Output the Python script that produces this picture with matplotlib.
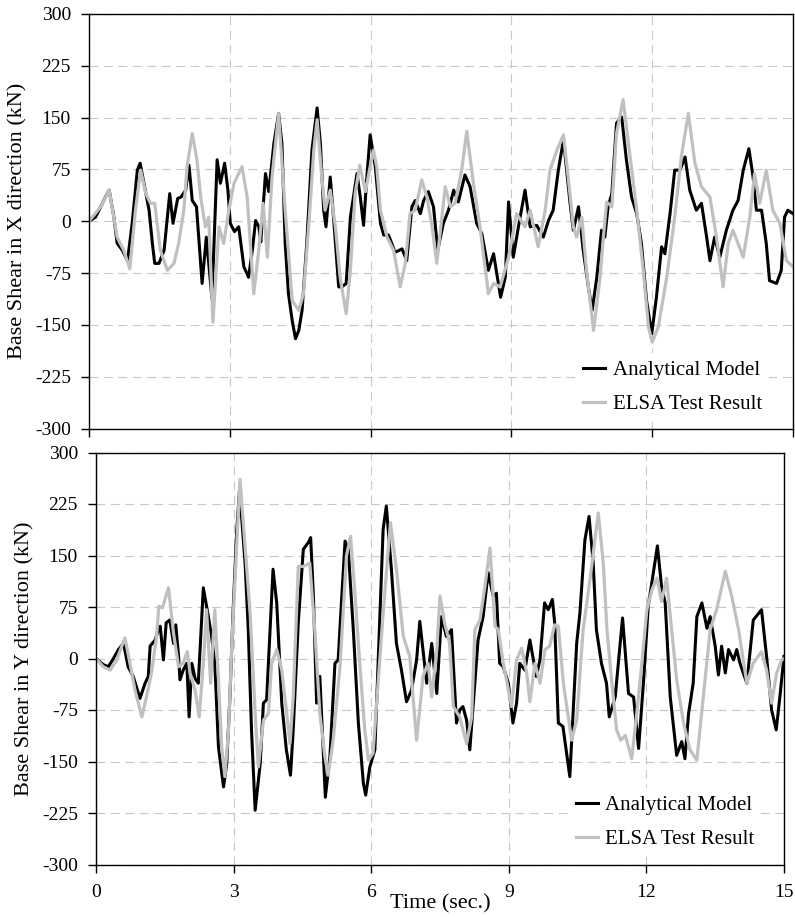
import numpy as np
import matplotlib
matplotlib.use("Agg")
from matplotlib import pyplot as plt

# Base shear time histories, analytical model vs ELSA pseudo-dynamic test

# X direction - analytical model
t_x_model = [0.0, 0.14, 0.25, 0.35, 0.43, 0.53, 0.60, 0.71, 0.82, 0.92, 1.03, 1.09, 1.17, 1.28,
             1.35, 1.40, 1.49, 1.60, 1.72, 1.79, 1.89, 1.96, 2.06, 2.13, 2.20, 2.29, 2.41, 2.50,
             2.62, 2.73, 2.80, 2.89, 2.96, 3.01, 3.10, 3.19, 3.30, 3.40, 3.48, 3.55, 3.62, 3.66,
             3.76, 3.83, 3.94, 4.04, 4.11, 4.18, 4.25, 4.33, 4.40, 4.47, 4.54, 4.64, 4.75, 4.86,
             4.93, 5.00, 5.05, 5.14, 5.21, 5.32, 5.39, 5.48, 5.57, 5.71, 5.78, 5.85, 5.92, 5.99,
             6.10, 6.21, 6.28, 6.38, 6.45, 6.52, 6.67, 6.77, 6.88, 6.95, 7.06, 7.13, 7.23, 7.34,
             7.43, 7.55, 7.66, 7.77, 7.87, 8.01, 8.12, 8.26, 8.37, 8.51, 8.62, 8.77, 8.87, 8.94,
             9.04, 9.15, 9.29, 9.40, 9.54, 9.68, 9.79, 9.89, 10.00, 10.11, 10.25, 10.32, 10.43,
             10.53, 10.64, 10.72, 10.82, 10.92, 10.99, 11.06, 11.14, 11.24, 11.35, 11.45, 11.56,
             11.67, 11.77, 11.88, 11.99, 12.09, 12.20, 12.27, 12.38, 12.48, 12.59, 12.70, 12.80,
             12.94, 13.05, 13.16, 13.23, 13.33, 13.44, 13.58, 13.72, 13.83, 13.94, 14.06, 14.15,
             14.22, 14.33, 14.43, 14.50, 14.65, 14.75, 14.82, 14.89, 15.0]
vx_model = [0, 6, 21, 35, 45, 6, -32, -42, -57, -3, 74, 84, 55, 16,
            -32, -61, -61, -42, 40, -3, 33, 35, 45, 81, 30, 21, -90, -23,
            -112, 89, 55, 84, 45, -3, -15, -8, -66, -81, -42, 1, -8, -30,
            69, 43, 113, 156, 113, -32, -105, -144, -170, -158, -129, -32, 103, 164,
            113, 16, -8, 64, 6, -95, -95, -90, 6, 69, 35, -6, 64, 125,
            79, -3, -20, -20, -32, -45, -40, -57, 21, 30, 11, 30, 43, 21,
            -42, -3, 16, 45, 28, 67, 50, -3, -18, -71, -47, -110, -81, 28,
            -52, -8, 45, -8, -6, -23, 1, 16, 74, 118, 26, -13, 21,
            -42, -95, -129, -81, -13, -23, 21, 40, 142, 151, 89, 35,
            11, -32, -115, -163, -110, -37, -47, 11, 74, 74, 93, 45,
            16, 26, -23, -57, -23, -52, -13, 16, 30, 74, 105, 64,
            16, 16, -32, -86, -90, -71, 6, 16, 11]

# X direction - ELSA test
t_x_test = [0.0, 0.25, 0.43, 0.60, 0.74, 0.87, 0.99, 1.10, 1.21, 1.31, 1.40, 1.52, 1.67, 1.81,
            1.91, 2.02, 2.09, 2.20, 2.30, 2.38, 2.48, 2.55, 2.64, 2.77, 2.87, 2.98, 3.09, 3.26,
            3.37, 3.51, 3.62, 3.71, 3.80, 3.90, 4.04, 4.18, 4.33, 4.47, 4.57, 4.68, 4.79, 4.86,
            4.96, 5.03, 5.14, 5.25, 5.35, 5.48, 5.57, 5.67, 5.77, 5.89, 5.99, 6.06, 6.13, 6.21,
            6.35, 6.49, 6.63, 6.74, 6.84, 6.95, 7.09, 7.20, 7.31, 7.41, 7.59, 7.70, 7.80, 7.94,
            8.05, 8.19, 8.33, 8.51, 8.62, 8.76, 8.94, 9.11, 9.29, 9.40, 9.57, 9.72, 9.82, 9.97,
            10.11, 10.21, 10.32, 10.39, 10.50, 10.60, 10.75, 10.89, 10.96, 11.03, 11.14, 11.24,
            11.38, 11.53, 11.67, 11.81, 11.92, 12.00, 12.13, 12.31, 12.48, 12.62, 12.77, 12.91,
            13.05, 13.23, 13.37, 13.51, 13.62, 13.72, 13.94, 14.08, 14.18, 14.29, 14.43, 14.57,
            14.72, 14.86, 15.0]
vx_test = [0, 21, 45, -23, -42, -69, 16, 74, 40, 26, 26, -42, -71, -61,
           -32, 16, 79, 127, 89, 35, -8, 6, -146, -8, -32, 16, 55, 79,
           35, -105, -40, 26, -52, 64, 156, 16, -115, -129, -105, -8, 103, 147,
           64, 16, 45, -8, -81, -134, -71, 40, 81, 43, 79, 103, 79, 16,
           -23, -42, -95, -61, 11, 16, 60, 35, -8, -61, 50, 21, 26, 74,
           130, 55, -8, -105, -90, -95, -52, 11, -8, 16, -37, 16, 74, 103,
           125, 64, -8, -23, 6, -71, -158, -81, -23, 28, 21, 127,
           176, 93, 16, -71, -153, -175, -153, -81, 6, 93, 156, 84,
           50, 35, -23, -95, -32, -13, -52, 6, 69, 26, 74, 16,
           -3, -57, -66]

# Y direction - analytical model
t_y_model = [0.0, 0.16, 0.27, 0.38, 0.49, 0.60, 0.70, 0.81, 0.96, 1.07, 1.14, 1.18, 1.29, 1.36,
             1.40, 1.47, 1.53, 1.61, 1.69, 1.74, 1.80, 1.83, 1.90, 1.98, 2.03, 2.09, 2.16, 2.23,
             2.34, 2.45, 2.52, 2.59, 2.67, 2.78, 2.85, 2.92, 2.99, 3.07, 3.13, 3.25, 3.32, 3.39,
             3.47, 3.58, 3.65, 3.72, 3.86, 3.94, 4.05, 4.15, 4.24, 4.30, 4.41, 4.52, 4.63, 4.68,
             4.74, 4.81, 4.88, 4.95, 5.00, 5.10, 5.21, 5.28, 5.35, 5.43, 5.50, 5.61, 5.72, 5.83,
             5.88, 5.97, 6.08, 6.15, 6.26, 6.33, 6.44, 6.55, 6.66, 6.77, 6.88, 6.99, 7.06, 7.21,
             7.32, 7.43, 7.53, 7.64, 7.75, 7.86, 7.93, 8.00, 8.08, 8.15, 8.26, 8.33, 8.44, 8.55,
             8.66, 8.73, 8.80, 8.88, 8.99, 9.09, 9.17, 9.24, 9.35, 9.46, 9.60, 9.68, 9.78, 9.86,
             9.95, 10.00, 10.08, 10.18, 10.33, 10.48, 10.55, 10.66, 10.75, 10.84, 10.91, 11.02,
             11.13, 11.19, 11.32, 11.48, 11.61, 11.72, 11.83, 11.94, 12.04, 12.24, 12.33, 12.41,
             12.52, 12.66, 12.77, 12.84, 12.92, 13.02, 13.10, 13.21, 13.32, 13.39, 13.50, 13.57,
             13.64, 13.72, 13.79, 13.90, 13.97, 14.04, 14.19, 14.33, 14.51, 14.62, 14.73, 14.83,
             14.91, 15.0]
vy_model = [0, -9, -12, 0, 13, 22, -12, -26, -58, -36, -26, 18, 27, 42,
            47, -2, 52, 56, 22, 49, 3, -31, -17, -7, -85, -7, -29, -36,
            103, 61, 32, -7, -129, -187, -153, -56, 71, 188, 246, 139, 42, -104,
            -221, -153, -65, -60, 130, 81, -65, -133, -170, -104, 52, 159, 169, 176,
            91, -65, -26, -129, -202, -143, -7, -2, 81, 171, 159, 42, -94, -182,
            -199, -158, -133, -7, 188, 222, 130, 22, -17, -63, -46, -2, 54, -36,
            22, -51, 61, 32, 42, -94, -75, -70, -90, -133, -36, 27, 61, 125,
            91, 95, -7, -12, -36, -94, -65, -7, -17, 27, -26, -2, 81, 71,
            86, 52, -94, -99, -172, 22, 66, 173, 207, 139, 42, -7,
            -36, -85, -56, 59, -51, -56, -131, -31, 76, 164, 105, 81,
            -56, -141, -121, -146, -80, -36, 61, 81, 44, 61, 18, -24,
            18, -21, 13, -2, 13, -7, -36, 56, 71, 3, -75, -104,
            -56, 3]

# Y direction - ELSA test
t_y_test = [0.0, 0.16, 0.31, 0.45, 0.63, 0.74, 0.85, 1.00, 1.10, 1.21, 1.32, 1.37, 1.45, 1.58,
            1.69, 1.80, 1.90, 1.99, 2.05, 2.16, 2.25, 2.34, 2.41, 2.50, 2.59, 2.67, 2.74, 2.81,
            2.89, 2.96, 3.03, 3.14, 3.25, 3.36, 3.47, 3.54, 3.65, 3.76, 3.83, 3.94, 4.05, 4.15,
            4.23, 4.30, 4.41, 4.52, 4.66, 4.77, 4.88, 4.99, 5.06, 5.17, 5.32, 5.46, 5.55, 5.64,
            5.75, 5.86, 5.94, 6.04, 6.15, 6.26, 6.42, 6.55, 6.70, 6.84, 6.99, 7.13, 7.24, 7.32,
            7.43, 7.50, 7.60, 7.71, 7.79, 7.93, 8.08, 8.19, 8.26, 8.37, 8.48, 8.59, 8.70, 8.77,
            8.88, 9.06, 9.17, 9.28, 9.39, 9.46, 9.57, 9.68, 9.79, 9.89, 10.00, 10.08, 10.19,
            10.37, 10.48, 10.62, 10.77, 10.95, 11.06, 11.14, 11.24, 11.35, 11.44, 11.54, 11.68,
            11.79, 11.90, 12.01, 12.12, 12.23, 12.33, 12.44, 12.55, 12.66, 12.81, 12.95, 13.10,
            13.24, 13.39, 13.53, 13.72, 13.86, 14.01, 14.19, 14.33, 14.51, 14.62, 14.73, 14.84,
            14.95, 15.0]
vy_test = [0, -12, -17, -2, 30, -7, -46, -85, -56, -21, 32, 76, 74, 103,
           37, -12, -7, 10, -21, -46, -85, -7, 71, -36, 71, -31, -129, -172,
           -104, 18, 115, 261, 164, 66, -80, -158, -90, -80, -7, 13, -17, -75,
           -124, -56, 134, 134, 139, 42, -80, -143, -170, -119, -12, 149, 178, 100,
           -7, -104, -148, -138, -36, 66, 198, 130, 32, 3, -119, -26, -7, -56,
           13, 91, 52, 22, -70, -85, -124, -85, 42, 56, 105, 161, 47, 42,
           -7, -70, -2, 15, -21, -63, -7, -36, 13, 18, 49, 47, -36,
           -119, -90, 42, 115, 212, 139, 42, -31, -104, -119, -112, -146,
           -80, -7, 71, 100, 117, 83, 117, 42, -31, -94, -133, -148,
           -56, 42, 71, 127, 91, 42, -36, -7, 10, -17, -65, -21,
           -2, 0]

plt.rcParams['font.family'] = ['Liberation Serif', 'DejaVu Serif']
plt.rcParams['axes.unicode_minus'] = False

fig = plt.figure(figsize=(7.95, 9.17), dpi=100)
W, H = 795., 917.
ax1 = fig.add_axes([89 / W, 1 - 428.5 / H, 704 / W, 414.5 / H])
ax2 = fig.add_axes([96 / W, 1 - 864.5 / H, 688 / W, 412 / H])

panels = [(ax1, t_x_model, vx_model, t_x_test, vx_test,
           'Base Shear in X direction (kN)', -0.101, (0.829, 0.099)),
          (ax2, t_y_model, vy_model, t_y_test, vy_test,
           'Base Shear in Y direction (kN)', -0.103, (0.827, 0.102))]

for ax, tm, vm, tt, vt, ylab, ylab_x, leg_pos in panels:
    ax.plot(tm, vm, color='black', linewidth=2.2, label='Analytical Model',
            solid_joinstyle='round', zorder=3)
    ax.plot(tt, vt, color='#c0c0c0', linewidth=2.3, label='ELSA Test Result',
            solid_joinstyle='round', zorder=4)

    ax.set_xlim(0, 15)
    ax.set_ylim(-300, 300)
    ax.set_xticks(np.arange(0, 16, 3))
    ax.set_yticks(np.arange(-300, 301, 75))
    ax.grid(True, color='#c8c8c8', linestyle=(0, (8, 5)), linewidth=0.8, zorder=0)
    ax.set_axisbelow(True)
    ax.tick_params(direction='out', length=6, width=1, labelsize=14)
    ax.tick_params(axis='y', pad=7)
    ax.tick_params(axis='x', pad=8)
    for sp in ax.spines.values():
        sp.set_linewidth(1.0)
        sp.set_zorder(6)

    ax.set_ylabel(ylab, fontsize=16)
    ax.yaxis.label.set_va('center')
    ax.yaxis.set_label_coords(ylab_x, 0.5)

    leg = ax.legend(loc='center', bbox_to_anchor=leg_pos, fontsize=15,
                    frameon=True, facecolor='white', edgecolor='none', framealpha=1,
                    fancybox=False, handlelength=1.05, handletextpad=0.35,
                    labelspacing=0.7, borderpad=0.35, borderaxespad=0)
    leg.set_zorder(5)

ax1.tick_params(axis='x', labelbottom=False)
ax2.set_xlabel('Time (sec.)', fontsize=16)
ax2.xaxis.set_label_coords(0.5, -0.072)

plt.savefig('out.png', dpi=100)
